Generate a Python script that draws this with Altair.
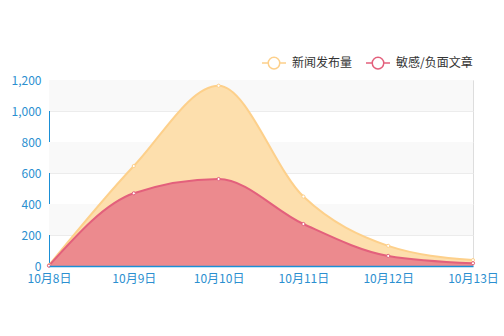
import altair as alt
import pandas as pd

dates = ["10月8日", "10月9日", "10月10日", "10月11日", "10月12日", "10月13日"]
news = [5, 645, 1163, 448, 130, 38]
sensitive = [2, 469, 561, 271, 65, 18]
series = ["新闻发布量", "敏感/负面文章"]
colors_line = ["#fdd08b", "#e3607c"]
colors_area = ["#fddfad", "#ec8a8e"]

band_lo = [200, 600, 1000]
band_hi = [400, 800, 1200]

df = pd.DataFrame({
    "date": dates * 2,
    "value": news + sensitive,
    "series": [series[0]] * len(dates) + [series[1]] * len(dates),
})
bands = pd.DataFrame({"lo": band_lo, "hi": band_hi})

font = "Noto Sans CJK SC"
blue = "#2b8fd0"
axis_blue = "#1a8fd6"

xenc = alt.X("date:N", sort=dates, scale=alt.Scale(type="point", padding=0),
             axis=alt.Axis(title=None, labelAngle=0, grid=False, zindex=2))
yscale = alt.Scale(domain=[0, 1200], nice=False)

yaxis = alt.Axis(title=None, values=[0, 200, 400, 600, 800, 1000, 1200], format=",d",
                 labelOverlap=False, domainColor=axis_blue, domainOpacity=1,
                 domainWidth=1)

band_layer = alt.Chart(bands).mark_rect(color="#f9f9f9").encode(
    y=alt.Y("lo:Q", scale=yscale, axis=yaxis), y2="hi:Q"
)

base = alt.Chart(df).encode(x=xenc)

area_news = base.transform_filter(alt.datum.series == series[0]).mark_area(
    interpolate="monotone", color=colors_area[0]
).encode(y=alt.Y("value:Q", scale=yscale, axis=yaxis, stack=None))

area_sens = base.transform_filter(alt.datum.series == series[1]).mark_area(
    interpolate="monotone", color=colors_area[1]
).encode(y=alt.Y("value:Q", scale=yscale, axis=yaxis, stack=None))

cscale = alt.Scale(domain=series, range=colors_line)

lines = base.mark_line(interpolate="monotone", strokeWidth=2).encode(
    y=alt.Y("value:Q", scale=yscale, axis=yaxis),
    stroke=alt.Stroke("series:N", scale=cscale, sort=series,
                      legend=alt.Legend(title=None, orient="none", direction="horizontal",
                                        legendX=212, legendY=-30,
                                        symbolType="M-1,0L-0.48,0M0.48,0L1,0M0.48,0A0.48,0.48 0 1,1 -0.48,0A0.48,0.48 0 1,1 0.48,0",
                                        symbolSize=576, symbolFillColor="white",
                                        symbolStrokeWidth=1.5, labelFont=font,
                                        labelFontSize=12, labelColor="#333",
                                        columnPadding=10, labelOffset=5)),
)

points = base.mark_point(filled=True, fill="white", size=10, strokeWidth=1, opacity=1).encode(
    y=alt.Y("value:Q", scale=yscale, axis=yaxis),
    stroke=alt.Stroke("series:N", scale=cscale, legend=None),
)

chart = alt.layer(band_layer, area_news, area_sens, lines, points).properties(
    width=424, height=186,
    padding={"left": 49, "top": 80, "right": 31, "bottom": 70},
    autosize=alt.AutoSizeParams(type="none"),
).configure_view(stroke=None).configure(font=font).configure_axis(
    labelColor=blue, labelFontSize=12, labelFont=font, ticks=False,
    domainColor=axis_blue, gridColor="#ececec"
).configure_axisY(labelPadding=8).configure_axisX(
    labelPadding=7, domainWidth=1.5
)

chart.save("out.html", embed_options={"renderer": "svg", "actions": False})
